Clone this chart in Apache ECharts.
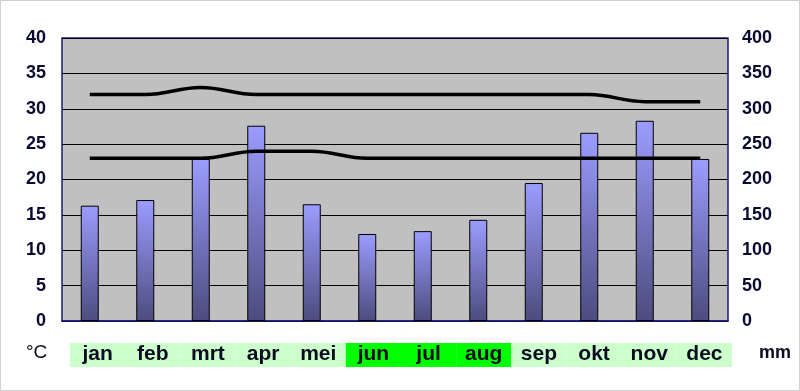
<!DOCTYPE html>
<html>
<head>
<meta charset="utf-8">
<script src="https://cdn.jsdelivr.net/npm/echarts@6/dist/echarts.min.js"></script>
<style>html,body{margin:0;padding:0;background:#fff}#c{width:800px;height:391px}</style>
</head>
<body>
<div id="c"></div>
<script>
const months = ['jan','feb','mrt','apr','mei','jun','jul','aug','sep','okt','nov','dec'];
const rainfall = [163, 171, 229, 276, 165, 123, 127, 143, 195, 266, 283, 229];
const maxTemp = [32, 32, 33, 32, 32, 32, 32, 32, 32, 32, 31, 31];
const minTemp = [23, 23, 23, 24, 24, 23, 23, 23, 23, 23, 23, 23];
const dryMonths = ['jun','jul','aug'];
const leftTicks = [0, 5, 10, 15, 20, 25, 30, 35, 40];
const rightTicks = [0, 50, 100, 150, 200, 250, 300, 350, 400];

const chart = echarts.init(document.getElementById('c'));
const tickFont = {fontFamily:'Liberation Sans, Arial, sans-serif', fontWeight:'bold', fontSize:18, color:'#0a0a30'};
chart.setOption({
  animation:false,
  backgroundColor:'#ffffff',
  grid:[
    {left:62, right:72, top:38, bottom:70, show:true, backgroundColor:'#c0c0c0', borderColor:'#1a1a80', borderWidth:1.5},
    {left:70, width:662, top:343, height:24}
  ],
  xAxis:[
    {type:'category', data:months, gridIndex:0, boundaryGap:true,
     axisLine:{show:true, lineStyle:{color:'#1a1a80', width:1.5}}, axisTick:{show:false}, axisLabel:{show:false}},
    {type:'category', data:months, gridIndex:1, axisLine:{show:false}, axisTick:{show:false}, axisLabel:{show:false}}
  ],
  yAxis:[
    {type:'value', gridIndex:0, min:leftTicks[0], max:leftTicks[leftTicks.length-1], interval:5,
     axisLine:{show:false}, axisTick:{show:false},
     splitLine:{show:true, lineStyle:{color:'#000', width:1}},
     axisLabel:Object.assign({margin:16}, tickFont)},
    {type:'value', gridIndex:0, position:'right', min:rightTicks[0], max:rightTicks[rightTicks.length-1], interval:50,
     axisLine:{show:false}, axisTick:{show:false}, splitLine:{show:false},
     axisLabel:Object.assign({margin:14}, tickFont)},
    {type:'value', gridIndex:1, min:0, max:1, show:false}
  ],
  series:[
    {type:'bar', xAxisIndex:0, yAxisIndex:1, data:rainfall, barWidth:18, z:2,
     itemStyle:{borderColor:'#000', borderWidth:1,
       color:new echarts.graphic.LinearGradient(0,0,0,1,[{offset:0,color:'#9c9cff'},{offset:1,color:'#4c4c7e'}])}},
    {type:'line', xAxisIndex:0, yAxisIndex:0, data:maxTemp, smooth:0.4, showSymbol:false, z:3,
     lineStyle:{color:'#000', width:3.5}},
    {type:'line', xAxisIndex:0, yAxisIndex:0, data:minTemp, smooth:0.4, showSymbol:false, z:3,
     lineStyle:{color:'#000', width:3.5}},
    {type:'bar', xAxisIndex:1, yAxisIndex:2, barCategoryGap:'0%',
     data:months.map(m => ({value:1, itemStyle:{color: dryMonths.includes(m) ? '#00ff00' : '#ccffcc'}})),
     label:{show:true, position:'inside', formatter:'{b}', fontFamily:'Liberation Sans, Arial, sans-serif', fontWeight:'bold', fontSize:21, color:'#0a0a20', offset:[0,-1]},
     silent:true}
  ],
  graphic:[
    {type:'text', left:26, top:343, style:{text:'°C', font:'19px Liberation Sans, Arial, sans-serif', fill:'#0a0a20'}},
    {type:'text', left:759, top:344, style:{text:'mm', font:'bold 18px Liberation Sans, Arial, sans-serif', fill:'#0a0a20'}},
    {type:'rect', shape:{x:0.5, y:0.5, width:799, height:390}, style:{fill:'none', stroke:'#d0d0d0', lineWidth:1}, silent:true}
  ]
});
</script>
</body>
</html>
